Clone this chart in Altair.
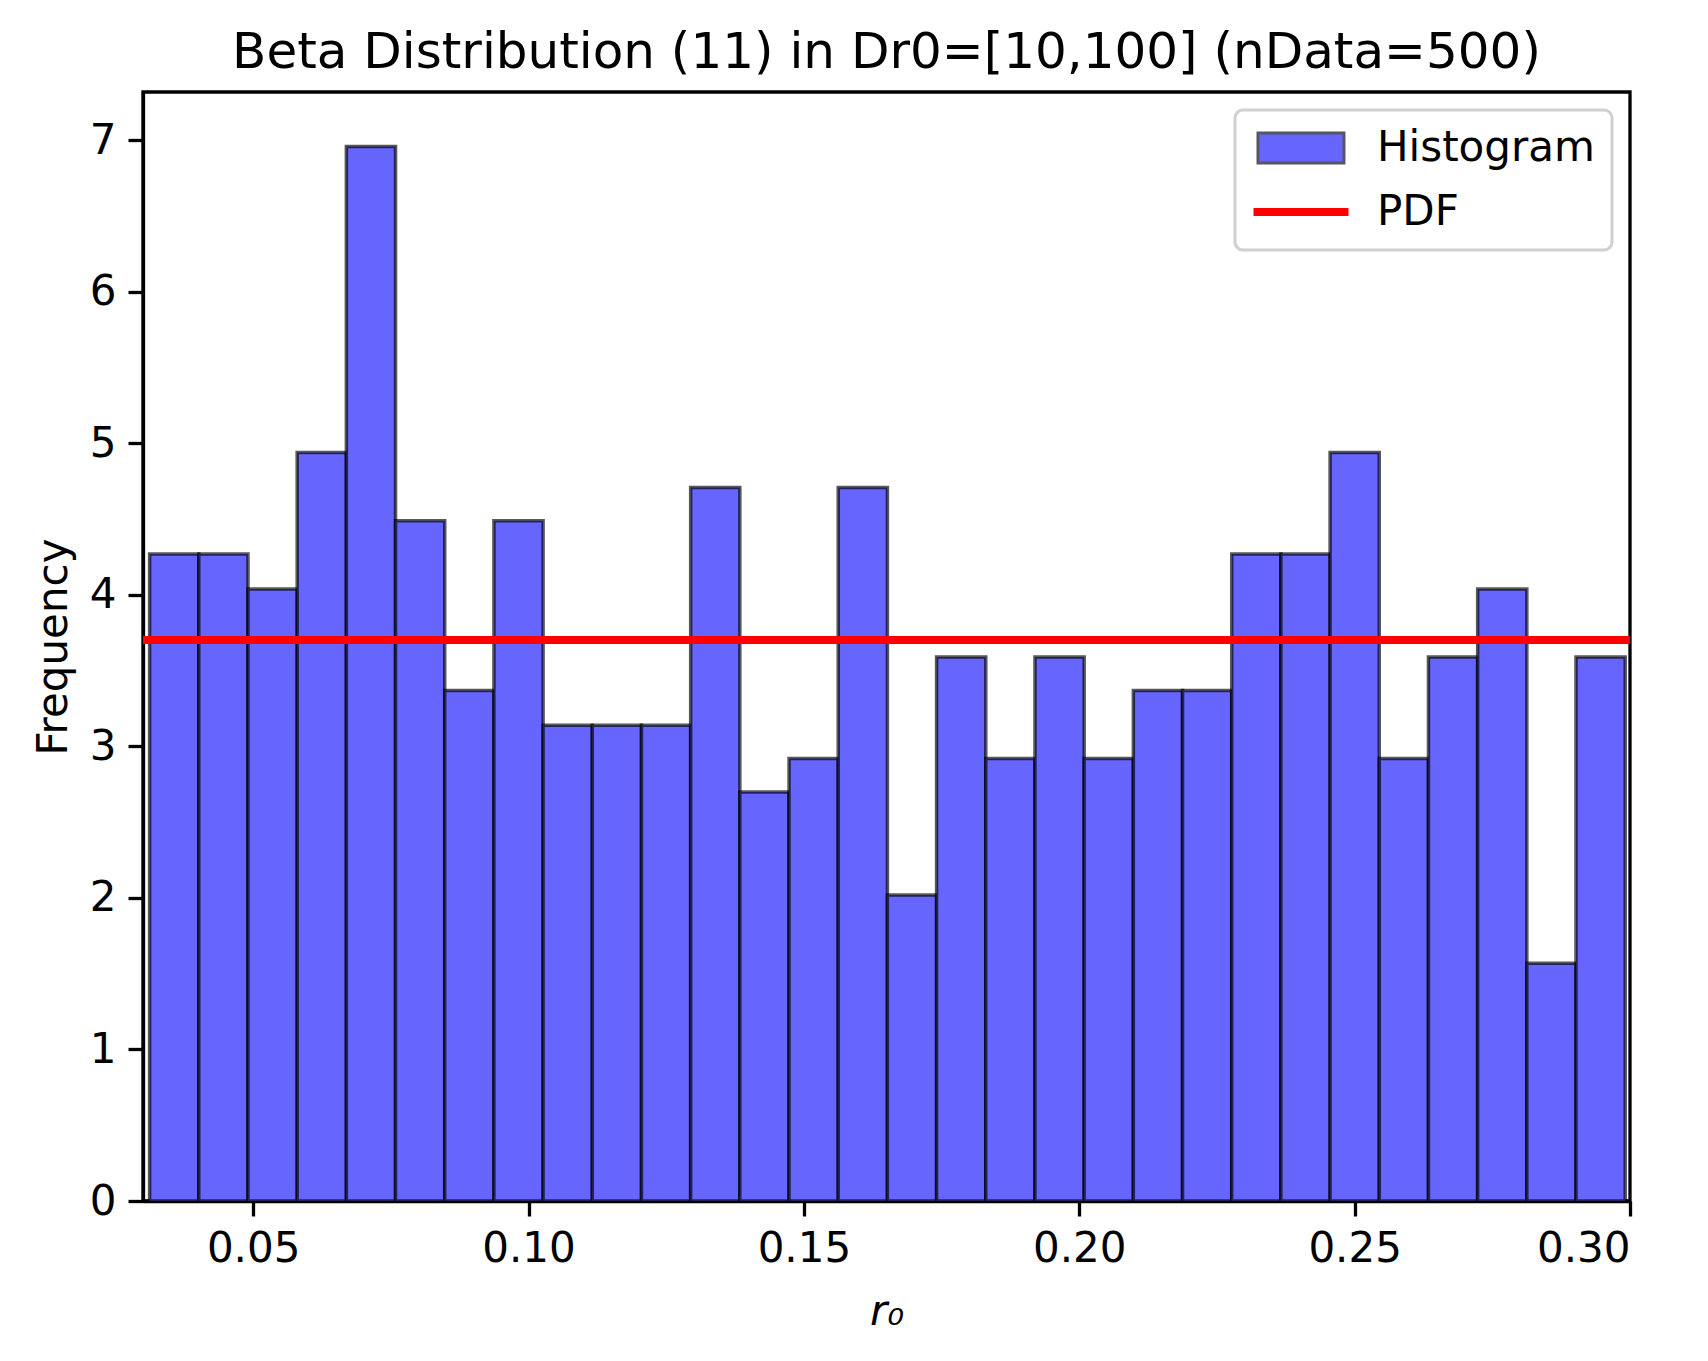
import altair as alt
import pandas as pd

# ---- data ----
bin_left = 0.0312          # left edge of the first bin
bin_width = 0.008931       # width of each bin
density = [4.27, 4.27, 4.04, 4.94, 6.96, 4.49, 3.37, 4.49, 3.14, 3.14,
           3.14, 4.71, 2.70, 2.92, 4.71, 2.02, 3.59, 2.92, 3.59, 2.92,
           3.37, 3.37, 4.27, 4.27, 4.94, 2.92, 3.59, 4.04, 1.57, 3.59]
pdf_x = [0.03, 0.30]
pdf_value = 3.7037
x_domain = [0.03, 0.30]
y_domain = [0, 7.32]
x_ticks = [0.05, 0.10, 0.15, 0.20, 0.25, 0.30]
y_ticks = [0, 1, 2, 3, 4, 5, 6, 7]
series = ["Histogram", "PDF"]
fill_colors = ["#6666ff", "#ff0000"]
edge_colors = ["#555566", "#ff0000"]
title_text = "Beta Distribution (11) in Dr0=[10,100] (nData=500)"

FONT = "DejaVu Sans"

hist_df = pd.DataFrame({
    "left": [bin_left + i * bin_width for i in range(len(density))],
    "right": [bin_left + (i + 1) * bin_width for i in range(len(density))],
    "density": density,
})
pdf_df = pd.DataFrame({
    "left": [pdf_x[0]],
    "right": [pdf_x[1]],
    "density": [pdf_value],
})
legend_df = pd.DataFrame({"series": series})

x_scale = alt.Scale(domain=x_domain, nice=False, zero=False)
y_scale = alt.Scale(domain=y_domain, nice=False)

x_axis = alt.Axis(values=x_ticks, format=".2f", title="r₀", grid=False,
                  titleFontStyle="italic")
y_axis = alt.Axis(values=y_ticks, format="d", title="Frequency", grid=False)

bars = alt.Chart(hist_df).mark_bar(
    fill="#6666ff", stroke="black", strokeOpacity=0.65, strokeWidth=3.5
).encode(
    x=alt.X("left:Q", scale=x_scale, axis=x_axis),
    x2="right:Q",
    y=alt.Y("density:Q", scale=y_scale, axis=y_axis),
    y2=alt.datum(0),
)

pdf_line = alt.Chart(pdf_df).mark_rule(strokeWidth=8, color="#ff0000").encode(
    x=alt.X("left:Q", scale=x_scale, axis=x_axis),
    x2="right:Q",
    y=alt.Y("density:Q", scale=y_scale, axis=y_axis),
)

# legend-only layer (invisible points) carrying the legend symbols
rect_path = "M-1,-1H4.73V1H-1Z"
line_path = "M-1.2,-0.17H4.93V0.17H-1.2Z"
legend_layer = alt.Chart(legend_df).mark_point(
    filled=True, opacity=0, strokeWidth=3
).encode(
    fill=alt.Fill("series:N", scale=alt.Scale(domain=series, range=fill_colors),
                  legend=alt.Legend(title=None)),
    stroke=alt.Stroke("series:N", scale=alt.Scale(domain=series, range=edge_colors),
                      legend=alt.Legend(title=None)),
    shape=alt.Shape("series:N", scale=alt.Scale(domain=series, range=[rect_path, line_path]),
                    legend=alt.Legend(title=None)),
)

chart = alt.layer(bars, pdf_line, legend_layer).properties(
    width=1487,
    height=1109,
    title=alt.TitleParams(title_text, fontSize=50, font=FONT, fontWeight="normal",
                          color="black", anchor="middle", offset=14),
    padding={"left": 24, "top": 20, "right": 10, "bottom": 10},
).configure_view(
    stroke="black", strokeWidth=3.3
).configure_axis(
    labelFont=FONT, labelFontSize=42, labelColor="black",
    titleFont=FONT, titleFontSize=42, titleColor="black", titleFontWeight="normal",
    domainColor="black", domainWidth=3.3,
    tickColor="black", tickWidth=3.3, tickSize=15,
    labelPadding=12,
).configure_axisX(
    titlePadding=22,
).configure_axisY(
    titlePadding=14,
).configure_legend(
    orient="top-right", offset=18,
    labelFont=FONT, labelFontSize=42, labelColor="black", labelLimit=500,
    labelOffset=83, symbolSize=900, symbolOpacity=1, symbolStrokeWidth=3,
    fillColor="white", strokeColor="#d0d0d0", strokeWidth=3,
    cornerRadius=8, padding=17, rowPadding=22,
)

chart.save("out.html", embed_options={"renderer": "svg", "actions": False})
